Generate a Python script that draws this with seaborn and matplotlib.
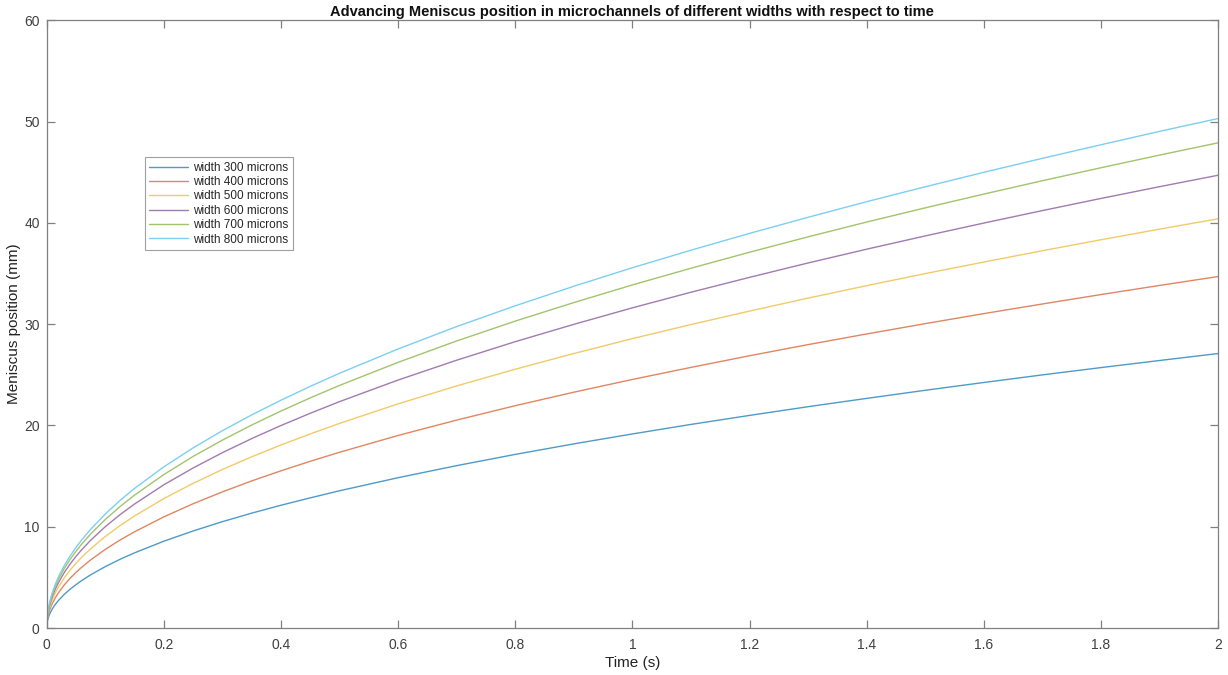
import numpy as np
import pandas as pd
import matplotlib
matplotlib.use("Agg")
import matplotlib.pyplot as plt
import seaborn as sns

time_s = [0, 0.001, 0.002, 0.003, 0.005, 0.0075, 0.01, 0.015, 0.02, 0.03, 0.04, 0.05, 0.06,
          0.075, 0.1, 0.125, 0.15, 0.2, 0.25, 0.3, 0.35, 0.4, 0.45, 0.5,
          0.6, 0.7, 0.8, 0.9, 1.0, 1.1, 1.2, 1.3, 1.4, 1.5, 1.6, 1.7, 1.8, 1.9, 2.0]

w300 = [0, 0.61, 0.86, 1.05, 1.36, 1.66, 1.92, 2.35, 2.71, 3.32, 3.83, 4.28, 4.69,
        5.25, 6.06, 6.78, 7.42, 8.57, 9.58, 10.50, 11.34, 12.12, 12.85, 13.55,
        14.84, 16.03, 17.14, 18.18, 19.16, 20.10, 20.99, 21.85, 22.67, 23.47, 24.24, 24.99, 25.71, 26.41, 27.1]
w400 = [0, 0.78, 1.10, 1.34, 1.74, 2.13, 2.45, 3.01, 3.47, 4.25, 4.91, 5.49, 6.01,
        6.72, 7.76, 8.68, 9.50, 10.97, 12.27, 13.44, 14.52, 15.52, 16.46, 17.35,
        19.01, 20.53, 21.95, 23.28, 24.54, 25.73, 26.88, 27.98, 29.03, 30.05, 31.04, 31.99, 32.92, 33.82, 34.7]
w500 = [0, 0.90, 1.28, 1.56, 2.02, 2.47, 2.86, 3.50, 4.04, 4.95, 5.71, 6.39, 7.00,
        7.82, 9.03, 10.10, 11.06, 12.78, 14.28, 15.65, 16.90, 18.07, 19.16, 20.20,
        22.13, 23.90, 25.55, 27.10, 28.57, 29.96, 31.29, 32.57, 33.80, 34.99, 36.13, 37.25, 38.33, 39.38, 40.4]
w600 = [0, 1.00, 1.41, 1.73, 2.24, 2.74, 3.16, 3.87, 4.47, 5.47, 6.32, 7.07, 7.74,
        8.66, 10.00, 11.18, 12.24, 14.14, 15.80, 17.31, 18.70, 19.99, 21.20, 22.35,
        24.48, 26.44, 28.27, 29.98, 31.61, 33.15, 34.62, 36.04, 37.40, 38.71, 39.98, 41.21, 42.41, 43.57, 44.7]
w700 = [0, 1.07, 1.51, 1.86, 2.40, 2.93, 3.39, 4.15, 4.79, 5.87, 6.77, 7.57, 8.30,
        9.28, 10.71, 11.98, 13.12, 15.15, 16.94, 18.55, 20.04, 21.42, 22.72, 23.95,
        26.23, 28.34, 30.30, 32.13, 33.87, 35.52, 37.10, 38.62, 40.08, 41.48, 42.84, 44.16, 45.44, 46.69, 47.9]
w800 = [0, 1.12, 1.59, 1.95, 2.52, 3.08, 3.56, 4.36, 5.03, 6.16, 7.11, 7.95, 8.71,
        9.74, 11.25, 12.58, 13.78, 15.91, 17.78, 19.48, 21.04, 22.49, 23.86, 25.15,
        27.55, 29.76, 31.81, 33.74, 35.57, 37.30, 38.96, 40.55, 42.09, 43.56, 44.99, 46.37, 47.71, 49.03, 50.3]

series_names = ["width 300 microns", "width 400 microns", "width 500 microns",
                "width 600 microns", "width 700 microns", "width 800 microns"]
series_values = [w300, w400, w500, w600, w700, w800]
colors = ["#4c9bc9", "#e08662", "#f0cb68", "#a27bb0", "#a2c46c", "#7ccff0"]

frames = []
for name, vals in zip(series_names, series_values):
    frames.append(pd.DataFrame({"Time (s)": time_s, "Meniscus position (mm)": vals, "series": name}))
df = pd.concat(frames, ignore_index=True)

sns.set_theme(style="white")
plt.rcParams["font.family"] = ["Liberation Sans", "DejaVu Sans"]

fig = plt.figure(figsize=(12.28, 6.75), dpi=100)
ax = fig.add_axes([0.038, 0.0696, 0.954, 0.9004])

sns.lineplot(data=df, x="Time (s)", y="Meniscus position (mm)", hue="series",
             hue_order=series_names, palette=colors, linewidth=1.0, ax=ax,
             estimator=None, sort=False)

ax.set_xlim(0, 2)
ax.set_ylim(0, 60)
ax.set_xticks(np.arange(0, 2.01, 0.2))
ax.set_xticklabels(["0", "0.2", "0.4", "0.6", "0.8", "1", "1.2", "1.4", "1.6", "1.8", "2"])
ax.set_yticks(np.arange(0, 61, 10))

edge = "#808080"
for s in ax.spines.values():
    s.set_color(edge)
    s.set_linewidth(0.9)
    s.set_visible(True)
ax.tick_params(direction="in", length=6, width=0.9, color=edge, labelcolor="#404040",
               labelsize=10, top=True, right=True, bottom=True, left=True)
ax.tick_params(axis="x", pad=7)
ax.tick_params(axis="y", pad=5)

ax.set_xlabel("Time (s)", fontsize=11, color="#222222", labelpad=3)
ax.set_ylabel("Meniscus position (mm)", fontsize=11, color="#222222", labelpad=2)
ax.set_title("Advancing Meniscus position in microchannels of different widths with respect to time",
             fontsize=10.5, fontweight="bold", color="#111111", pad=3)

leg = ax.legend(loc="upper left", bbox_to_anchor=(0.0837, 0.775), fontsize=8.5,
                frameon=True, fancybox=False, edgecolor="#888888", handlelength=3.3,
                handletextpad=0.4, labelspacing=0.2, borderpad=0.4, borderaxespad=0)
leg.get_frame().set_linewidth(0.8)
for line in leg.get_lines():
    line.set_linewidth(1.0)

fig.savefig("out.png", dpi=100)
